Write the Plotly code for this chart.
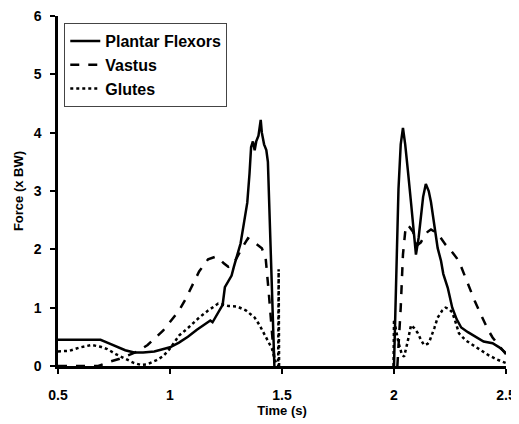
import plotly.graph_objects as go

# Plantar Flexors (solid)
pf_x = [0.5, 0.55, 0.6, 0.65, 0.69, 0.72, 0.76, 0.8, 0.84, 0.88, 0.93, 0.97, 1.0, 1.04, 1.08, 1.12, 1.16, 1.18,
        1.19, 1.21, 1.235, 1.245, 1.26, 1.275, 1.285, 1.30, 1.315, 1.33, 1.345, 1.355, 1.362, 1.37, 1.378, 1.385,
        1.395, 1.405, 1.41, 1.42, 1.43, 1.437, 1.445, 1.452, 1.46, 1.466,
        None,
        2.0, 2.01, 2.02, 2.03, 2.04, 2.05, 2.06, 2.062, 2.077, 2.09, 2.098, 2.11, 2.12, 2.13, 2.142, 2.155, 2.165,
        2.18, 2.195, 2.21, 2.22, 2.24, 2.26, 2.28, 2.30, 2.33, 2.35, 2.376, 2.40, 2.44, 2.47, 2.5]
pf_y = [0.45, 0.45, 0.44, 0.45, 0.45, 0.40, 0.33, 0.27, 0.23, 0.23, 0.25, 0.29, 0.32, 0.40, 0.50, 0.62, 0.72, 0.78,
        0.75, 0.88, 1.05, 1.35, 1.45, 1.55, 1.70, 1.88, 2.10, 2.45, 2.80, 3.30, 3.75, 3.85, 3.70, 3.85,
        3.95, 4.22, 4.00, 3.80, 3.70, 3.50, 2.60, 1.60, 0.70, 0.0,
        None,
        0.0, 1.5, 3.03, 3.8, 4.08, 3.8, 3.49, 3.35, 2.76, 2.2, 1.91, 2.2, 2.53, 2.9, 3.12, 3.0, 2.81,
        2.4, 2.02, 1.8, 1.58, 1.34, 1.0, 0.8, 0.66, 0.58, 0.53, 0.47, 0.42, 0.39, 0.32, 0.22]

# Vastus (dashed)
va_x = [0.5, 0.6, 0.68, 0.72, 0.78, 0.85, 0.9, 0.97, 1.0, 1.04, 1.07, 1.1, 1.13, 1.17, 1.2, 1.22, 1.24, 1.26,
        1.28, 1.29, 1.31, 1.326, 1.348, 1.37, 1.39, 1.41, 1.427, 1.44, 1.45, 1.46, 1.47,
        None,
        2.015, 2.03, 2.04, 2.05, 2.058, 2.07, 2.085, 2.1, 2.107, 2.12, 2.134, 2.15, 2.165, 2.19, 2.21, 2.23,
        2.25, 2.28, 2.3, 2.33, 2.36, 2.394, 2.42, 2.44, 2.47, 2.5]
va_y = [0.0, 0.0, 0.0, 0.06, 0.13, 0.24, 0.36, 0.61, 0.75, 0.95, 1.15, 1.40, 1.62, 1.83, 1.87, 1.84, 1.76, 1.70,
        1.74, 1.80, 1.95, 2.05, 2.19, 2.14, 2.08, 2.02, 1.85, 1.30, 0.78, 0.35, 0.0,
        None,
        0.0, 1.0, 1.91, 2.3, 2.42, 2.38, 2.3, 2.12, 2.08, 2.12, 2.22, 2.3, 2.34, 2.28, 2.19, 2.08,
        2.0, 1.85, 1.7, 1.41, 1.12, 0.83, 0.62, 0.49, 0.35, 0.2]

# Glutes (dotted)
gl_x = [0.5, 0.55, 0.6, 0.65, 0.69, 0.72, 0.76, 0.8, 0.84, 0.87, 0.9, 0.94, 0.97, 1.0, 1.04, 1.08, 1.13, 1.17,
        1.215, 1.26, 1.3, 1.34, 1.378, 1.40, 1.42, 1.44, 1.455, 1.465, 1.475, 1.483, 1.485, 1.487,
        None,
        1.998, 2.0, 2.01, 2.02, 2.035, 2.045, 2.06, 2.076, 2.09, 2.107, 2.12, 2.134, 2.15, 2.16, 2.18, 2.195,
        2.215, 2.23, 2.245, 2.26, 2.275, 2.29, 2.32, 2.363, 2.39, 2.42, 2.46, 2.5]
gl_y = [0.25, 0.26, 0.32, 0.36, 0.33, 0.29, 0.20, 0.12, 0.05, 0.02, 0.03, 0.10, 0.17, 0.30, 0.52, 0.65, 0.83, 0.95,
        1.07, 1.03, 1.02, 0.95, 0.83, 0.70, 0.56, 0.40, 0.30, 0.15, 0.03, 0.0, 1.66, 0.0,
        None,
        0.0, 0.8, 0.6, 0.4, 0.2, 0.16, 0.4, 0.7, 0.65, 0.56, 0.45, 0.36, 0.38, 0.44, 0.65, 0.83,
        0.95, 1.0, 0.98, 0.92, 0.75, 0.56, 0.44, 0.33, 0.26, 0.19, 0.11, 0.05]

x_ticks = [0.5, 1, 1.5, 2, 2.5]
x_ticktext = ["0.5", "1", "1.5", "2", "2.5"]
y_ticks = [0, 1, 2, 3, 4, 5, 6]

FONT = "Liberation Sans, Arial, sans-serif"

fig = go.Figure()
fig.add_trace(go.Scatter(x=pf_x, y=pf_y, mode="lines", name="Plantar Flexors",
                         line=dict(color="black", width=2.5, dash="solid"), connectgaps=False))
fig.add_trace(go.Scatter(x=va_x, y=va_y, mode="lines", name="Vastus",
                         line=dict(color="black", width=2.5, dash="dash"), connectgaps=False))
fig.add_trace(go.Scatter(x=gl_x, y=gl_y, mode="lines", name="Glutes",
                         line=dict(color="black", width=2.5, dash="dot"), connectgaps=False))

fig.update_layout(
    width=511, height=416,
    margin=dict(l=50, r=13, t=8, b=58),
    paper_bgcolor="white", plot_bgcolor="white",
    font=dict(family=FONT, color="black"),
    legend=dict(x=0.014, y=0.98, xanchor="left", yanchor="top",
                bordercolor="#444", borderwidth=1, bgcolor="white",
                font=dict(family=FONT, size=16, weight="bold", color="black"),
                itemwidth=30, tracegroupgap=0),
)
fig.update_xaxes(range=[0.5, 2.5], tickvals=x_ticks, ticktext=x_ticktext, automargin=False,
                 showline=True, linecolor="black", linewidth=2.5, mirror=False,
                 ticks="outside", ticklen=5, tickwidth=2, tickcolor="black",
                 showgrid=False, zeroline=False, ticklabeloverflow="allow",
                 tickfont=dict(family=FONT, size=14, weight="bold", color="black"),
                 ticklabelstandoff=9,
                 title=dict(text="Time (s)", font=dict(family=FONT, size=13, weight="bold", color="black"),
                            standoff=0))
fig.update_yaxes(range=[0, 6], tickvals=y_ticks, automargin=False,
                 showline=True, linecolor="black", linewidth=2.5, mirror=False,
                 ticks="outside", ticklen=5, tickwidth=2, tickcolor="black",
                 showgrid=False, zeroline=False, ticklabeloverflow="allow",
                 tickfont=dict(family=FONT, size=14, weight="bold", color="black"),
                 ticklabelstandoff=6,
                 title=dict(text="Force (x BW)", font=dict(family=FONT, size=13, weight="bold", color="black"),
                            standoff=8))

fig.write_html("out.html")
